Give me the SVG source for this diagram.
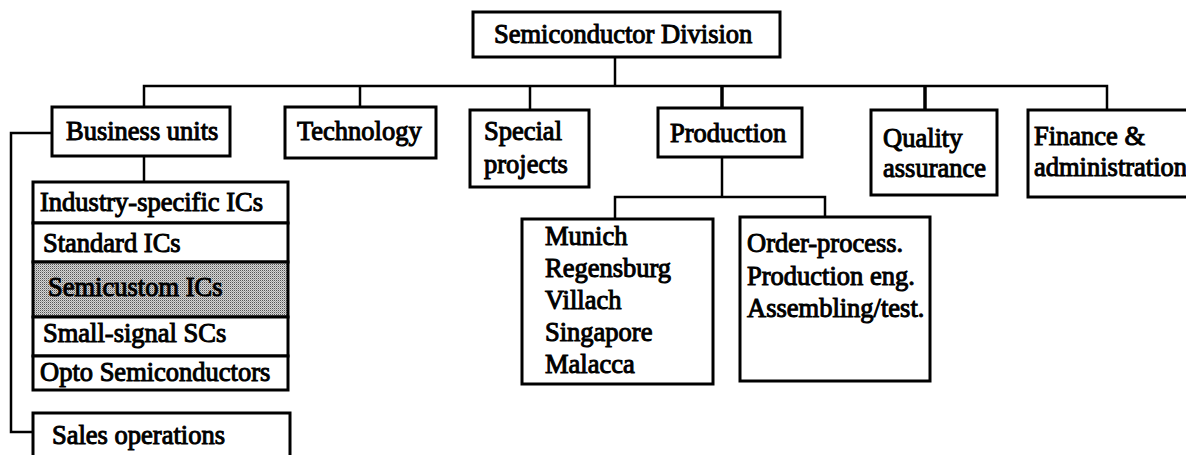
<svg xmlns="http://www.w3.org/2000/svg" width="1186" height="455" viewBox="0 0 1186 455">
<defs>
<pattern id="dither" width="2" height="2" patternUnits="userSpaceOnUse">
<rect width="2" height="2" fill="#d6d6d6"/>
<rect x="0" y="0" width="1" height="1" fill="#555"/>
<rect x="1" y="1" width="1" height="1" fill="#a0a0a0"/>
</pattern>
</defs>
<style>
.box{fill:#fff;stroke:#000;stroke-width:3}
.shade{fill:url(#dither);stroke:#000;stroke-width:3}
.t{font-family:"Liberation Serif","Times New Roman",serif;font-size:26.5px;fill:#000;stroke:#000;stroke-width:1}
.con{fill:none;stroke:#000;stroke-width:2.5}
.thick{stroke-width:3.5}
</style>
<rect width="1186" height="455" fill="#fff"/>
<g id="connectors">
<path class="con" d="M615,57 V86"/>
<path class="con" d="M144,107 V86 H1107 V110"/>
<path class="con" d="M360,86 V107"/>
<path class="con" d="M530,86 V110"/>
<path class="con thick" d="M722,86 V108"/>
<path class="con thick" d="M925,86 V110"/>
<path class="con" d="M144,156 V182"/>
<path class="con" d="M52,133 H11 V432 H33"/>
<path class="con" d="M722,157 V197"/>
<path class="con" d="M615,219 V197 H825 V217"/>
</g>
<g id="division">
<rect class="box" x="473" y="12" width="307" height="45"/>
<text class="t" x="494" y="43">Semiconductor Division</text>
</g>
<g id="business-units">
<rect class="box" x="52" y="107" width="178" height="49"/>
<text class="t" x="66" y="140">Business units</text>
</g>
<g id="technology">
<rect class="box" x="285" y="107" width="151" height="51"/>
<text class="t" x="297" y="140">Technology</text>
</g>
<g id="special-projects">
<rect class="box" x="470" y="110" width="119" height="77"/>
<text class="t" x="484" y="140">Special</text>
<text class="t" x="484" y="173">projects</text>
</g>
<g id="production">
<rect class="box" x="658" y="108" width="144" height="49"/>
<text class="t" x="670" y="142">Production</text>
</g>
<g id="quality-assurance">
<rect class="box" x="871" y="110" width="126" height="85"/>
<text class="t" x="883" y="147">Quality</text>
<text class="t" x="883" y="177">assurance</text>
</g>
<g id="finance">
<rect class="box" x="1028" y="110" width="180" height="87"/>
<text class="t" x="1034" y="145">Finance &amp;</text>
<text class="t" x="1034" y="176">administration</text>
</g>
<g id="industry-specific">
<rect class="box" x="33" y="182" width="255" height="41"/>
<text class="t" x="40" y="211">Industry-specific ICs</text>
</g>
<g id="standard">
<rect class="box" x="33" y="223" width="255" height="39"/>
<text class="t" x="43" y="252">Standard ICs</text>
</g>
<g id="semicustom">
<rect class="shade" x="33" y="262" width="255" height="55"/>
<text class="t" x="48" y="296">Semicustom ICs</text>
</g>
<g id="small-signal">
<rect class="box" x="33" y="317" width="255" height="39"/>
<text class="t" x="43" y="342">Small-signal SCs</text>
</g>
<g id="opto">
<rect class="box" x="33" y="356" width="255" height="34"/>
<text class="t" x="40" y="381">Opto Semiconductors</text>
</g>
<g id="sales">
<rect class="box" x="33" y="413" width="257" height="70"/>
<text class="t" x="52" y="444">Sales operations</text>
</g>
<g id="sites">
<rect class="box" x="522" y="219" width="191" height="165"/>
<text class="t" x="545" y="245">Munich</text>
<text class="t" x="545" y="277">Regensburg</text>
<text class="t" x="545" y="309">Villach</text>
<text class="t" x="545" y="341">Singapore</text>
<text class="t" x="545" y="373">Malacca</text>
</g>
<g id="functions">
<rect class="box" x="740" y="217" width="190" height="164"/>
<text class="t" x="747" y="252">Order-process.</text>
<text class="t" x="747" y="285">Production eng.</text>
<text class="t" x="747" y="317">Assembling/test.</text>
</g>
</svg>
